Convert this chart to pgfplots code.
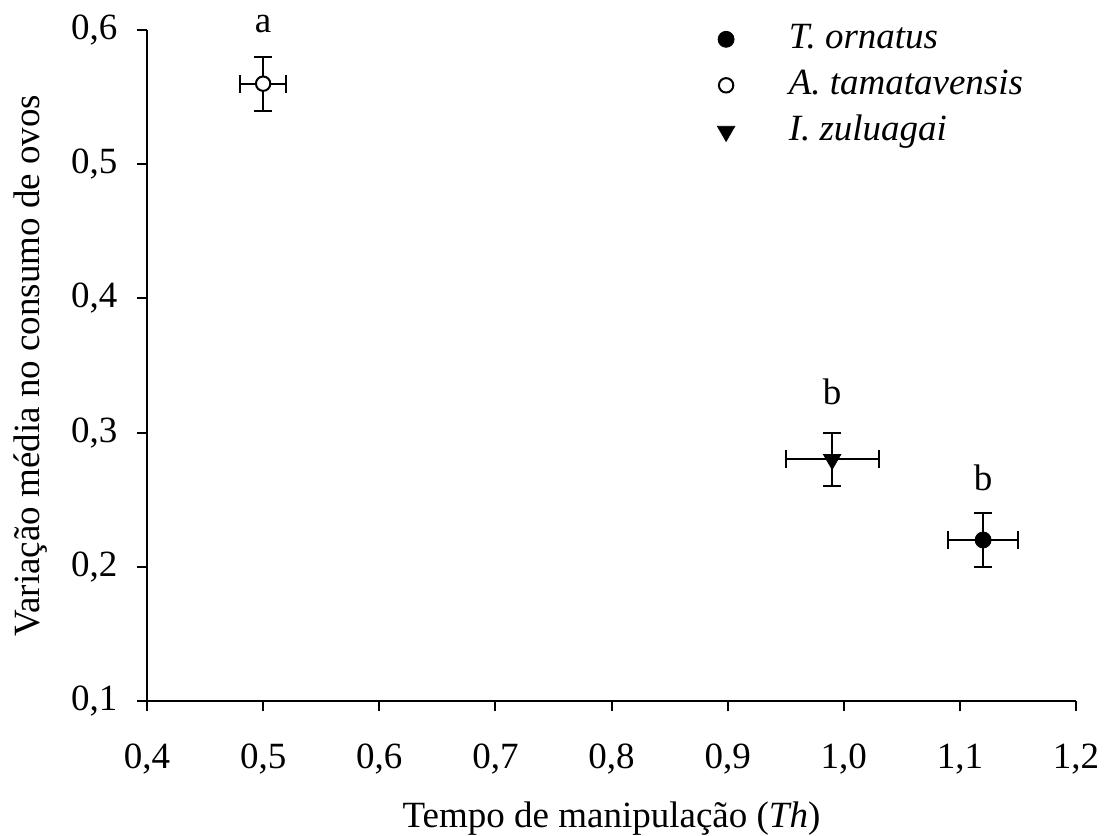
\documentclass[border=0pt]{standalone}
\usepackage{fontspec}
\setmainfont{Liberation Serif}
\usepackage{pgfplots}
\pgfplotsset{compat=1.18}
\begin{document}
\fontsize{18.5}{22}\selectfont
\begin{tikzpicture}
\begin{axis}[
  scale only axis,
  width=464.5pt, height=335.5pt,
  xmin=0.4, xmax=1.2, ymin=0.1, ymax=0.6,
  axis x line*=bottom, axis y line*=left,
  axis line style={line width=1pt, -},
  xtick={0.4,0.5,...,1.2}, ytick={0.1,0.2,...,0.6},
  tick align=outside, major tick length=5pt,
  tick style={line width=1pt, black},
  /pgf/number format/.cd, fixed, fixed zerofill, precision=1, use comma, assume math mode=true,
  /pgfplots/.cd,
  xticklabel style={yshift=-10pt},
  yticklabel style={xshift=-3.5pt},
  xlabel={Tempo de manipulação (\textit{Th})},
  ylabel={Variação média no consumo de ovos},
  xlabel style={at={(axis description cs:0.5,-0.1878)}, anchor=base},
  ylabel style={at={(axis description cs:-0.1152,0.5)}, anchor=base},
  legend style={draw=none, fill=none, inner sep=0pt, at={(0.6136,1.021)}, anchor=north west,
    font=\itshape, legend cell align=left,
    nodes={text height=13pt, text depth=4pt, inner sep=3pt},
    /tikz/every odd column/.append style={column sep=24pt}},
  clip=false,
]
\addplot+[only marks, mark=*, mark size=4pt, black, mark options={fill=black},
  error bars/.cd, x dir=both, x explicit, y dir=both, y explicit,
  error bar style={line width=1pt, black},
  error mark options={rotate=90, mark size=4.5pt, line width=1pt, black}]
  coordinates {(1.12,0.22) +- (0.03,0.02)};
\addlegendentry{T. ornatus}
\addplot+[only marks, mark=*, mark size=3.6pt, black, mark options={fill=white, line width=1pt},
  error bars/.cd, x dir=both, x explicit, y dir=both, y explicit,
  error bar style={line width=1pt, black},
  error mark options={rotate=90, mark size=4.5pt, line width=1pt, black}]
  coordinates {(0.50,0.56) +- (0.02,0.02)};
\addlegendentry{A. tamatavensis}
\addplot+[only marks, mark=triangle*, mark size=5pt, black, mark options={fill=black, rotate=180},
  error bars/.cd, x dir=both, x explicit, y dir=both, y explicit,
  error bar style={line width=1pt, black},
  error mark options={rotate=90, mark size=4.5pt, line width=1pt, black}]
  coordinates {(0.99,0.28) +- (0.04,0.02)};
\addlegendentry{I. zuluagai}
\node[anchor=base] at (axis cs:0.50,0.5985) {a};
\node[anchor=base] at (axis cs:0.99,0.3206) {b};
\node[anchor=base] at (axis cs:1.12,0.257) {b};
\end{axis}
\pgfresetboundingbox
\path[use as bounding box] ([shift={(-73.5pt,-67pt)}]current axis.south west) rectangle ([shift={(15.5pt,15pt)}]current axis.north east);
\end{tikzpicture}
\end{document}
